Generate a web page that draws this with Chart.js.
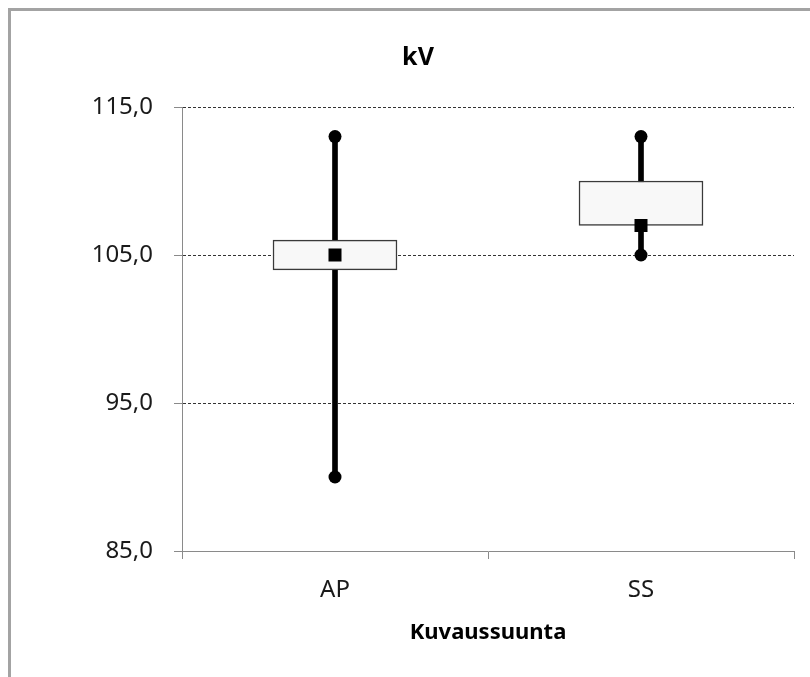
<!DOCTYPE html>
<html>
<head>
<meta charset="utf-8">
<title>kV</title>
<script src="https://cdn.jsdelivr.net/npm/chart.js@4"></script>
<style>
  html, body { margin: 0; padding: 0; background: #fff; overflow: hidden; }
  #wrap { position: relative; width: 810px; height: 677px; }
  #frame {
    position: absolute; left: 8px; top: 8px; width: 900px; height: 800px;
    border: 3px solid #a3a3a3; pointer-events: none;
  }
</style>
</head>
<body>
<div id="wrap">
  <canvas id="kvChart" width="810" height="677"></canvas>
  <div id="frame"></div>
</div>
<script>
const categories = ["AP", "SS"];
const minValues = [90, 105];
const lowerQuartile = [104, 107];
const upperQuartile = [106, 110];
const maxValues = [113, 113];
const midValues = [105, 107];
const yTicks = [85, 95, 105, 115];

document.addEventListener("DOMContentLoaded", function() {
  const ctx = document.getElementById("kvChart").getContext("2d");
  const font = "'Noto Sans', sans-serif";

  new Chart(ctx, {
    type: "bar",
    data: {
      labels: categories,
      datasets: [
        {
          // mean marker
          type: "line",
          data: midValues,
          showLine: false,
          pointStyle: "rect",
          pointRadius: 9.2,
          pointBackgroundColor: "#000",
          pointBorderWidth: 0,
          order: 1
        },
        {
          type: "line",
          data: maxValues,
          showLine: false,
          pointStyle: "circle",
          pointRadius: 6.5,
          pointBackgroundColor: "#000",
          pointBorderWidth: 0,
          order: 2
        },
        {
          type: "line",
          data: minValues,
          showLine: false,
          pointStyle: "circle",
          pointRadius: 6.5,
          pointBackgroundColor: "#000",
          pointBorderWidth: 0,
          order: 3
        },
        {
          // box
          data: categories.map((c, i) => [lowerQuartile[i], upperQuartile[i]]),
          backgroundColor: "#f8f8f8",
          borderColor: "#3a3a3a",
          borderWidth: 1.5,
          borderSkipped: false,
          barThickness: 124,
          grouped: false,
          order: 4
        },
        {
          // whisker
          data: categories.map((c, i) => [minValues[i], maxValues[i]]),
          backgroundColor: "#000",
          borderWidth: 0,
          barThickness: 5,
          grouped: false,
          order: 5
        }
      ]
    },
    options: {
      responsive: false,
      animation: false,
      layout: { padding: { left: 42, right: 16, top: 0, bottom: 0 } },
      plugins: {
        legend: { display: false },
        tooltip: { enabled: false },
        title: {
          display: true,
          text: "kV",
          color: "#000",
          font: { family: font, size: 25, weight: "bold" },
          padding: { top: 43, bottom: 34 }
        }
      },
      scales: {
        y: {
          min: 85,
          max: 115,
          afterFit: s => { s.width = 140; },
          afterBuildTicks: s => { s.ticks = yTicks.map(v => ({ value: v })); },
          border: { display: true, color: "#8a8a8a", width: 1, dash: [3, 2] },
          grid: {
            color: c => c.tick && c.tick.value === 85 ? "rgba(0,0,0,0)" : "#333",
            lineWidth: 1,
            drawTicks: true,
            tickLength: 8,
            tickColor: "#8a8a8a",
            tickBorderDash: [1, 0]
          },
          ticks: {
            color: "#1a1a1a",
            padding: 21,
            font: { family: font, size: 24 },
            callback: v => v.toFixed(1).replace(".", ",")
          }
        },
        x: {
          afterFit: s => { s.height = 126; },
          border: { display: true, color: "#8a8a8a", width: 1 },
          grid: {
            offset: true,
            drawOnChartArea: false,
            drawTicks: true,
            tickLength: 8,
            tickColor: "#8a8a8a"
          },
          ticks: {
            color: "#1a1a1a",
            padding: 17,
            font: { family: font, size: 24 }
          },
          title: {
            display: true,
            text: "Kuvaussuunta",
            color: "#000",
            font: { family: font, size: 22, weight: "bold" },
            padding: { top: 0, bottom: 31 }
          }
        }
      }
    }
  });
});
</script>
</body>
</html>
